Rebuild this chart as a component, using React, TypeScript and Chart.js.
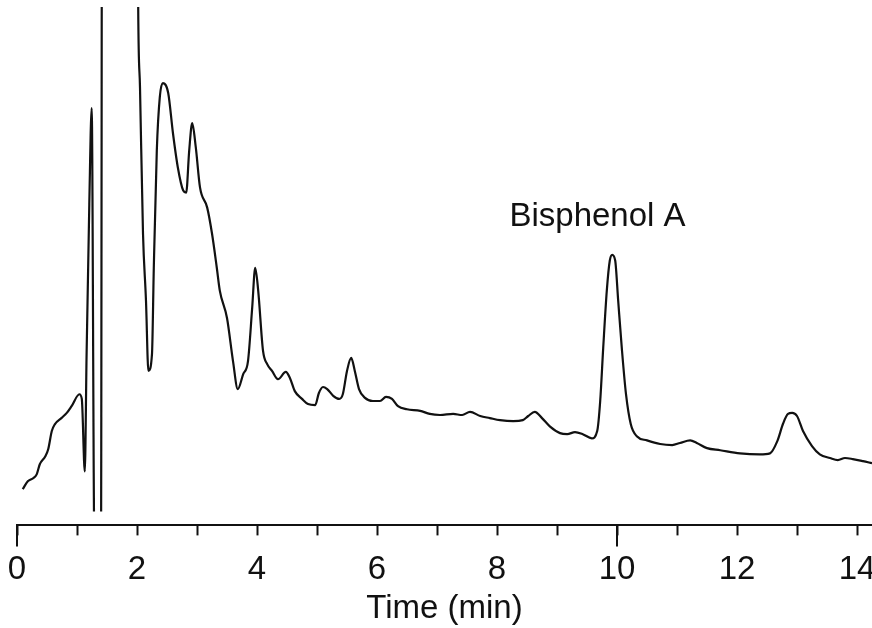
import { useEffect, useRef } from "react";
import Chart from "chart.js/auto";

// retention time (min) and detector signal (arbitrary units, 0-100 = plot height)
const times = [
  0.095, 0.18, 0.27, 0.33, 0.38, 0.47, 0.52, 0.58, 0.63, 0.74, 0.83, 0.91,
  1.04, 1.08, 1.13, 1.16, 1.205, 1.245, 1.29, 1.4, 1.42, 1.7, 2.0, 2.02, 2.05,
  2.1, 2.15, 2.19, 2.25, 2.28, 2.33, 2.38, 2.43, 2.52, 2.6, 2.68, 2.77, 2.82,
  2.87, 2.92, 2.98, 3.05, 3.17, 3.25, 3.33, 3.38, 3.5, 3.6, 3.68, 3.77, 3.85,
  3.92, 3.97, 4.02, 4.1, 4.17, 4.25, 4.35, 4.48, 4.55, 4.63, 4.75, 4.85, 4.97,
  5.03, 5.1, 5.17, 5.27, 5.37, 5.43, 5.5, 5.57, 5.63, 5.7, 5.8, 5.93, 6.05,
  6.15, 6.25, 6.35, 6.5, 6.72, 6.88, 7.05, 7.27, 7.42, 7.55, 7.72, 7.88, 8.05,
  8.27, 8.43, 8.52, 8.63, 8.75, 8.88, 9.05, 9.17, 9.3, 9.43, 9.58, 9.67, 9.72,
  9.77, 9.83, 9.88, 9.92, 9.97, 10.02, 10.08, 10.15, 10.23, 10.33, 10.5, 10.72,
  10.92, 11.05, 11.22, 11.33, 11.5, 11.72, 12.05, 12.38, 12.55, 12.67, 12.77,
  12.85, 12.92, 13.0, 13.1, 13.25, 13.38, 13.55, 13.68, 13.8, 13.93, 14.1, 14.25,
];

const signal = [
  7.0, 8.5, 9.1, 9.9, 11.8, 13.3, 14.7, 18.2, 19.5, 20.7, 21.7, 23.0,
  25.3, 24.4, 10.4, 33.1, 62.0, 80.5, -3, -3, 150, 150, 150, 100, 84.5,
  56.3, 43.3, 29.8, 33.1, 49.7, 72.3, 82.6, 85.3, 83.4, 75.6, 69.1, 64.6, 64.2,
  72.3, 77.6, 72.9, 65.2, 61.3, 56.3, 49.7, 45.3, 40.0, 31.7, 26.3, 29.2, 31.7,
  42.0, 49.7, 45.3, 33.7, 31.1, 29.8, 28.2, 29.6, 28.4, 25.9, 24.4, 23.4, 23.2,
  25.5, 26.7, 26.3, 25.0, 24.4, 25.3, 29.8, 32.3, 29.8, 26.3, 24.6, 24.0, 24.0,
  24.8, 24.4, 23.0, 22.4, 22.1, 21.5, 21.3, 21.5, 21.3, 21.9, 21.1, 20.7, 20.3,
  20.1, 20.3, 21.1, 21.9, 20.7, 19.1, 17.8, 17.6, 18.0, 17.6, 16.8, 18.2, 24.0,
  34.2, 45.3, 51.1, 52.2, 51.1, 43.3, 34.2, 25.3, 19.5, 17.2, 16.4, 15.7,
  15.5, 15.9, 16.4, 15.9, 14.9, 14.5, 13.9, 13.7, 13.9, 16.2, 19.7,
  21.5, 21.7, 21.1, 18.2, 15.3, 13.7, 13.0, 12.6, 13.0, 12.8, 12.4, 12.0,
];

const longTicks = [0, 10];
const peakLabel = { text: "Bisphenol A", x: 9.675, y: 57.8 };

const FONT = "'Liberation Sans', Arial, sans-serif";
const INK = "#111";

const extrasPlugin = {
  id: "extras",
  afterDraw(chart: any) {
    const { ctx, scales } = chart;
    const x = scales.x;
    const y = scales.y;
    ctx.save();
    // longer ticks
    ctx.strokeStyle = INK;
    ctx.lineWidth = 2;
    longTicks.forEach((v) => {
      const px = Math.round(x.getPixelForValue(v));
      ctx.beginPath();
      ctx.moveTo(px, x.top);
      ctx.lineTo(px, x.top + 21);
      ctx.stroke();
    });
    // peak label
    ctx.fillStyle = INK;
    ctx.font = `33px ${FONT}`;
    ctx.textAlign = "center";
    ctx.textBaseline = "alphabetic";
    ctx.fillText(
      peakLabel.text,
      x.getPixelForValue(peakLabel.x),
      y.getPixelForValue(peakLabel.y)
    );
    ctx.restore();
  },
};

export default function App() {
  const canvasRef = useRef<HTMLCanvasElement | null>(null);
  const chartRef = useRef<Chart | null>(null);

  useEffect(() => {
    document.body.style.margin = "0";
    if (!canvasRef.current) return;
    if (chartRef.current) chartRef.current.destroy();

    chartRef.current = new Chart(canvasRef.current, {
      type: "line",
      data: {
        datasets: [
          {
            data: times.map((t, i) => ({ x: t, y: signal[i] })),
            borderColor: INK,
            borderWidth: 2.2,
            pointRadius: 0,
            cubicInterpolationMode: "monotone",
            clip: { left: 0, top: 0, right: 0, bottom: -14 },
          },
        ],
      },
      options: {
        animation: false,
        responsive: true,
        maintainAspectRatio: false,
        layout: { padding: { left: 17, right: 0, top: 7, bottom: 0 } },
        plugins: { legend: { display: false }, tooltip: { enabled: false } },
        scales: {
          x: {
            type: "linear",
            min: 0,
            max: 14.25,
            afterFit: (scale: any) => {
              scale.paddingLeft = 0;
              scale.paddingRight = 0;
            },
            border: { display: true, color: INK, width: 2 },
            grid: {
              drawOnChartArea: false,
              drawTicks: true,
              tickLength: 10,
              tickWidth: 2,
              tickColor: INK,
            },
            ticks: {
              stepSize: 1,
              includeBounds: false,
              autoSkip: false,
              maxRotation: 0,
              padding: 15,
              color: INK,
              font: { family: FONT, size: 33, lineHeight: 1.2 },
              callback: (v: any) => (Number(v) % 2 === 0 ? String(v) : ""),
            },
            title: {
              display: true,
              text: "Time (min)",
              color: INK,
              font: { family: FONT, size: 33, lineHeight: 1.0 },
              padding: { top: -13, bottom: 3 },
            },
          },
          y: { display: false, min: 0, max: 100 },
        },
      },
      plugins: [extrasPlugin],
    });

    return () => {
      if (chartRef.current) chartRef.current.destroy();
    };
  }, []);

  return (
    <div style={{ width: 872, height: 628, position: "relative" }}>
      <canvas ref={canvasRef} />
    </div>
  );
}
